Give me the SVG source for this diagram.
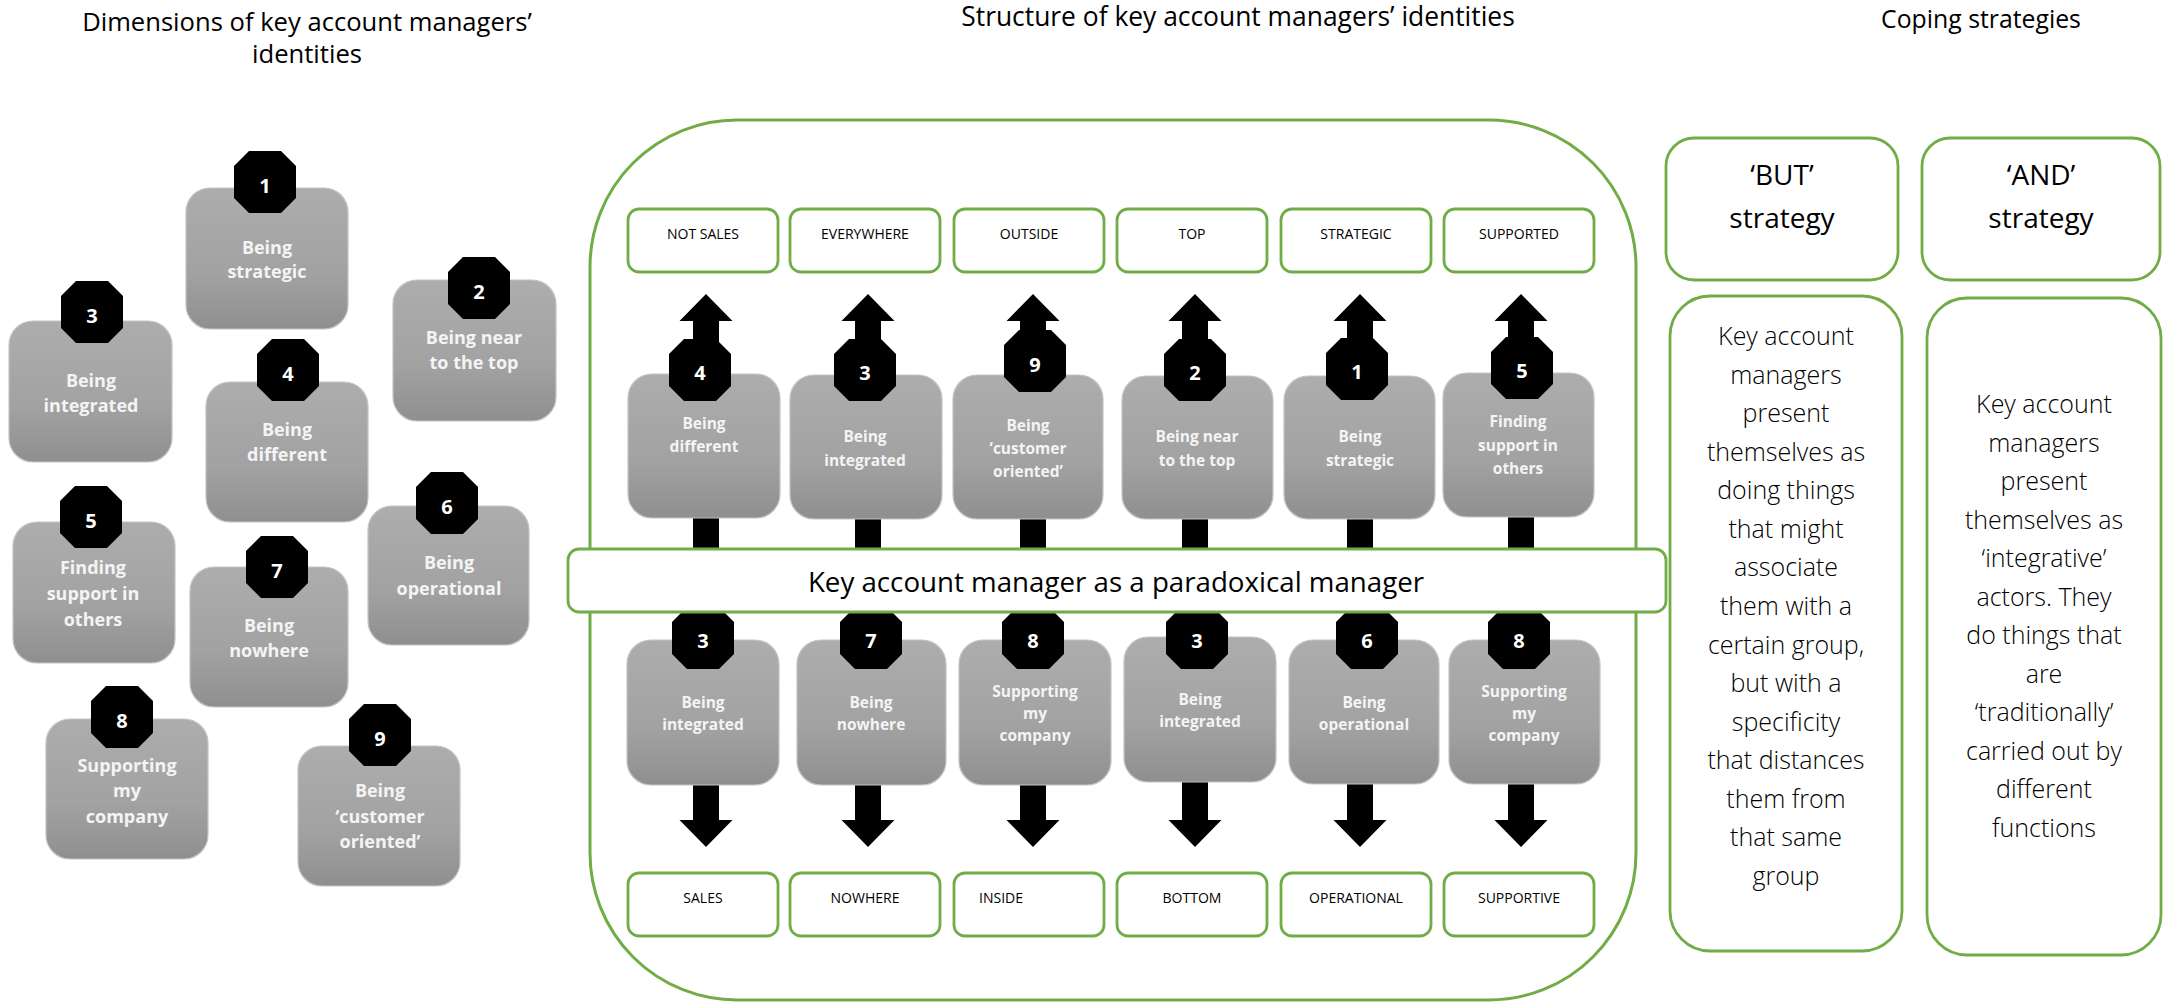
<svg xmlns="http://www.w3.org/2000/svg" xmlns:xlink="http://www.w3.org/1999/xlink" width="2165" height="1003" viewBox="0 0 2165 1003">
<defs>
<linearGradient id="gg" x1="0" y1="0" x2="0" y2="1">
<stop offset="0" stop-color="#adadad"/>
<stop offset="0.6" stop-color="#a2a2a2"/>
<stop offset="1" stop-color="#8f8f8f"/>
</linearGradient>
<polygon id="oct" points="-16,-31 16,-31 31,-16 31,16 16,31 -16,31 -31,16 -31,-16" fill="#000"/>
<polygon id="aup" points="0,0 26.5,27 13,27 13,256 -13,256 -13,27 -26.5,27" fill="#000"/>
<polygon id="adn" points="-13,0 13,0 13,208 26.5,208 0,235 -26.5,208 -13,208" fill="#000"/>
<style>
.hd{font-family:"Open Sans","Liberation Sans",sans-serif;font-size:25.6px;fill:#000;text-anchor:middle}
.gb{fill:url(#gg);stroke:#c4c4c4;stroke-width:1.2}
.lt{font-family:"Open Sans","Liberation Sans",sans-serif;font-weight:bold;font-size:18px;fill:#f4f4f4;text-anchor:middle}
.st{font-family:"Open Sans","Liberation Sans",sans-serif;font-weight:bold;font-size:15.5px;fill:#f4f4f4;text-anchor:middle}
.num{font-family:"Open Sans","Liberation Sans",sans-serif;font-weight:bold;font-size:20px;fill:#fff;text-anchor:middle}
.gr{fill:#fff;stroke:#70ad47;stroke-width:2.8}
.lb{font-family:"Open Sans","Liberation Sans",sans-serif;font-size:14px;fill:#000;text-anchor:middle}
.px{font-family:"Open Sans","Liberation Sans",sans-serif;font-size:27.7px;fill:#000;text-anchor:middle}
.sh{font-family:"Open Sans","Liberation Sans",sans-serif;font-size:28px;fill:#000;text-anchor:middle}
.sx{font-family:"Open Sans","Liberation Sans",sans-serif;font-weight:300;font-size:25px;fill:#000;text-anchor:middle}
</style>
</defs>
<rect width="2165" height="1003" fill="#fff"/>

<g id="headers">
<text class="hd" x="307" y="31">Dimensions of key account managers’</text>
<text class="hd" x="307" y="63">identities</text>
<text class="hd" x="1238" y="26" style="font-size:26.4px">Structure of key account managers’ identities</text>
<text class="hd" x="1981" y="28" style="font-size:24.8px">Coping strategies</text>
</g>

<!-- Left: dimensions -->
<g id="dim1"><rect class="gb" x="186" y="188" width="162" height="141" rx="24"/><use href="#oct" x="265" y="182"/><text class="num" x="265" y="193">1</text><text class="lt" x="267" y="254">Being</text><text class="lt" x="267" y="278">strategic</text></g>
<g id="dim3"><rect class="gb" x="9" y="321" width="163" height="141" rx="24"/><use href="#oct" x="92" y="312"/><text class="num" x="92" y="323">3</text><text class="lt" x="91" y="387">Being</text><text class="lt" x="91" y="412">integrated</text></g>
<g id="dim2"><rect class="gb" x="393" y="280" width="163" height="141" rx="24"/><use href="#oct" x="479" y="288"/><text class="num" x="479" y="299">2</text><text class="lt" x="474" y="344">Being near</text><text class="lt" x="474" y="369">to the top</text></g>
<g id="dim4"><rect class="gb" x="206" y="382" width="162" height="140" rx="24"/><use href="#oct" x="288" y="370"/><text class="num" x="288" y="381">4</text><text class="lt" x="287" y="436">Being</text><text class="lt" x="287" y="461">different</text></g>
<g id="dim6"><rect class="gb" x="368" y="506" width="161" height="139" rx="24"/><use href="#oct" x="447" y="503"/><text class="num" x="447" y="514">6</text><text class="lt" x="449" y="569">Being</text><text class="lt" x="449" y="595">operational</text></g>
<g id="dim5"><rect class="gb" x="13" y="522" width="162" height="141" rx="24"/><use href="#oct" x="91" y="517"/><text class="num" x="91" y="528">5</text><text class="lt" x="93" y="574">Finding</text><text class="lt" x="93" y="600">support in</text><text class="lt" x="93" y="626">others</text></g>
<g id="dim7"><rect class="gb" x="190" y="567" width="158" height="140" rx="24"/><use href="#oct" x="277" y="567"/><text class="num" x="277" y="578">7</text><text class="lt" x="269" y="632">Being</text><text class="lt" x="269" y="657">nowhere</text></g>
<g id="dim8"><rect class="gb" x="46" y="719" width="162" height="140" rx="24"/><use href="#oct" x="122" y="717"/><text class="num" x="122" y="728">8</text><text class="lt" x="127" y="772">Supporting</text><text class="lt" x="127" y="797">my</text><text class="lt" x="127" y="823">company</text></g>
<g id="dim9"><rect class="gb" x="298" y="746" width="162" height="140" rx="24"/><use href="#oct" x="380" y="735"/><text class="num" x="380" y="746">9</text><text class="lt" x="380" y="797">Being</text><text class="lt" x="380" y="823">‘customer</text><text class="lt" x="380" y="848">oriented’</text></g>

<!-- Structure container -->
<g id="structure">
<rect x="590" y="120" width="1046" height="880" rx="147" fill="none" stroke="#70ad47" stroke-width="3"/>
</g>

<g id="top-labels">
<g id="l-notsales"><rect class="gr" x="628" y="209" width="150" height="63" rx="11"/><text class="lb" x="703" y="239">NOT SALES</text></g>
<g id="l-everywhere"><rect class="gr" x="790" y="209" width="150" height="63" rx="11"/><text class="lb" x="865" y="239">EVERYWHERE</text></g>
<g id="l-outside"><rect class="gr" x="954" y="209" width="150" height="63" rx="11"/><text class="lb" x="1029" y="239">OUTSIDE</text></g>
<g id="l-top"><rect class="gr" x="1117" y="209" width="150" height="63" rx="11"/><text class="lb" x="1192" y="239">TOP</text></g>
<g id="l-strategic"><rect class="gr" x="1281" y="209" width="150" height="63" rx="11"/><text class="lb" x="1356" y="239">STRATEGIC</text></g>
<g id="l-supported"><rect class="gr" x="1444" y="209" width="150" height="63" rx="11"/><text class="lb" x="1519" y="239">SUPPORTED</text></g>
</g>

<g id="bottom-labels">
<g id="l-sales"><rect class="gr" x="628" y="873" width="150" height="63" rx="11"/><text class="lb" x="703" y="903">SALES</text></g>
<g id="l-nowhere"><rect class="gr" x="790" y="873" width="150" height="63" rx="11"/><text class="lb" x="865" y="903">NOWHERE</text></g>
<g id="l-inside"><rect class="gr" x="954" y="873" width="150" height="63" rx="11"/><text class="lb" x="979" y="903" style="text-anchor:start">INSIDE</text></g>
<g id="l-bottom"><rect class="gr" x="1117" y="873" width="150" height="63" rx="11"/><text class="lb" x="1192" y="903">BOTTOM</text></g>
<g id="l-operational"><rect class="gr" x="1281" y="873" width="150" height="63" rx="11"/><text class="lb" x="1356" y="903">OPERATIONAL</text></g>
<g id="l-supportive"><rect class="gr" x="1444" y="873" width="150" height="63" rx="11"/><text class="lb" x="1519" y="903">SUPPORTIVE</text></g>
</g>

<g id="connectors">
<use href="#aup" x="706" y="294"/><use href="#aup" x="868" y="294"/><use href="#aup" x="1033" y="294"/><use href="#aup" x="1195" y="294"/><use href="#aup" x="1360" y="294"/><use href="#aup" x="1521" y="294"/>
<use href="#adn" x="706" y="612"/><use href="#adn" x="868" y="612"/><use href="#adn" x="1033" y="612"/><use href="#adn" x="1195" y="612"/><use href="#adn" x="1360" y="612"/><use href="#adn" x="1521" y="612"/>
</g>

<g id="u1"><rect class="gb" x="628" y="374" width="152" height="144" rx="24"/><use href="#oct" x="700" y="370"/><text class="num" x="700" y="380">4</text><text class="st" x="704" y="429">Being</text><text class="st" x="704" y="452">different</text></g>
<g id="u2"><rect class="gb" x="790" y="375" width="152" height="144" rx="24"/><use href="#oct" x="865" y="370"/><text class="num" x="865" y="380">3</text><text class="st" x="865" y="442">Being</text><text class="st" x="865" y="466">integrated</text></g>
<g id="u3"><rect class="gb" x="953" y="375" width="150" height="144" rx="24"/><use href="#oct" x="1035" y="361"/><text class="num" x="1035" y="372">9</text><text class="st" x="1028" y="431">Being</text><text class="st" x="1028" y="454">‘customer</text><text class="st" x="1028" y="477">oriented’</text></g>
<g id="u4"><rect class="gb" x="1122" y="376" width="151" height="143" rx="24"/><use href="#oct" x="1195" y="370"/><text class="num" x="1195" y="380">2</text><text class="st" x="1197" y="442">Being near</text><text class="st" x="1197" y="466">to the top</text></g>
<g id="u5"><rect class="gb" x="1284" y="376" width="151" height="143" rx="24"/><use href="#oct" x="1357" y="369"/><text class="num" x="1357" y="379">1</text><text class="st" x="1360" y="442">Being</text><text class="st" x="1360" y="466">strategic</text></g>
<g id="u6"><rect class="gb" x="1443" y="373" width="151" height="144" rx="24"/><use href="#oct" x="1522" y="368"/><text class="num" x="1522" y="378">5</text><text class="st" x="1518" y="427">Finding</text><text class="st" x="1518" y="451">support in</text><text class="st" x="1518" y="474">others</text></g>

<g id="d1"><rect class="gb" x="627" y="640" width="152" height="145" rx="24"/><use href="#oct" x="703" y="638"/><text class="num" x="703" y="648">3</text><text class="st" x="703" y="708">Being</text><text class="st" x="703" y="730">integrated</text></g>
<g id="d2"><rect class="gb" x="797" y="640" width="149" height="145" rx="24"/><use href="#oct" x="871" y="638"/><text class="num" x="871" y="648">7</text><text class="st" x="871" y="708">Being</text><text class="st" x="871" y="730">nowhere</text></g>
<g id="d3"><rect class="gb" x="959" y="640" width="152" height="145" rx="24"/><use href="#oct" x="1033" y="638"/><text class="num" x="1033" y="648">8</text><text class="st" x="1035" y="697">Supporting</text><text class="st" x="1035" y="719">my</text><text class="st" x="1035" y="741">company</text></g>
<g id="d4"><rect class="gb" x="1124" y="637" width="152" height="145" rx="24"/><use href="#oct" x="1197" y="638"/><text class="num" x="1197" y="648">3</text><text class="st" x="1200" y="705">Being</text><text class="st" x="1200" y="727">integrated</text></g>
<g id="d5"><rect class="gb" x="1289" y="640" width="150" height="144" rx="24"/><use href="#oct" x="1367" y="638"/><text class="num" x="1367" y="648">6</text><text class="st" x="1364" y="708">Being</text><text class="st" x="1364" y="730">operational</text></g>
<g id="d6"><rect class="gb" x="1449" y="640" width="151" height="144" rx="24"/><use href="#oct" x="1519" y="638"/><text class="num" x="1519" y="648">8</text><text class="st" x="1524" y="697">Supporting</text><text class="st" x="1524" y="719">my</text><text class="st" x="1524" y="741">company</text></g>

<g id="paradox"><rect class="gr" x="568" y="549" width="1098" height="63" rx="11"/><text class="px" x="1116" y="592">Key account manager as a paradoxical manager</text></g>

<g id="but-head"><rect class="gr" x="1666" y="138" width="232" height="142" rx="28"/><text class="sh" x="1782" y="185">‘BUT’</text><text class="sh" x="1782" y="228">strategy</text></g>
<g id="and-head"><rect class="gr" x="1922" y="138" width="238" height="142" rx="28"/><text class="sh" x="2041" y="185">‘AND’</text><text class="sh" x="2041" y="228">strategy</text></g>

<g id="but-text"><rect class="gr" x="1670" y="296" width="232" height="655" rx="40"/>
<text class="sx" x="1786" y="345">Key account</text>
<text class="sx" x="1786" y="383.6">managers</text>
<text class="sx" x="1786" y="422.1">present</text>
<text class="sx" x="1786" y="460.7">themselves as</text>
<text class="sx" x="1786" y="499.3">doing things</text>
<text class="sx" x="1786" y="537.9">that might</text>
<text class="sx" x="1786" y="576.4">associate</text>
<text class="sx" x="1786" y="615">them with a</text>
<text class="sx" x="1786" y="653.6">certain group,</text>
<text class="sx" x="1786" y="692.1">but with a</text>
<text class="sx" x="1786" y="730.7">specificity</text>
<text class="sx" x="1786" y="769.3">that distances</text>
<text class="sx" x="1786" y="807.9">them from</text>
<text class="sx" x="1786" y="846.4">that same</text>
<text class="sx" x="1786" y="885">group</text>
</g>
<g id="and-text"><rect class="gr" x="1927" y="298" width="234" height="657" rx="40"/>
<text class="sx" x="2044" y="413">Key account</text>
<text class="sx" x="2044" y="451.5">managers</text>
<text class="sx" x="2044" y="490">present</text>
<text class="sx" x="2044" y="528.5">themselves as</text>
<text class="sx" x="2044" y="567">‘integrative’</text>
<text class="sx" x="2044" y="605.5">actors. They</text>
<text class="sx" x="2044" y="644">do things that</text>
<text class="sx" x="2044" y="682.5">are</text>
<text class="sx" x="2044" y="721">‘traditionally’</text>
<text class="sx" x="2044" y="759.5">carried out by</text>
<text class="sx" x="2044" y="798">different</text>
<text class="sx" x="2044" y="836.5">functions</text>
</g>
</svg>
